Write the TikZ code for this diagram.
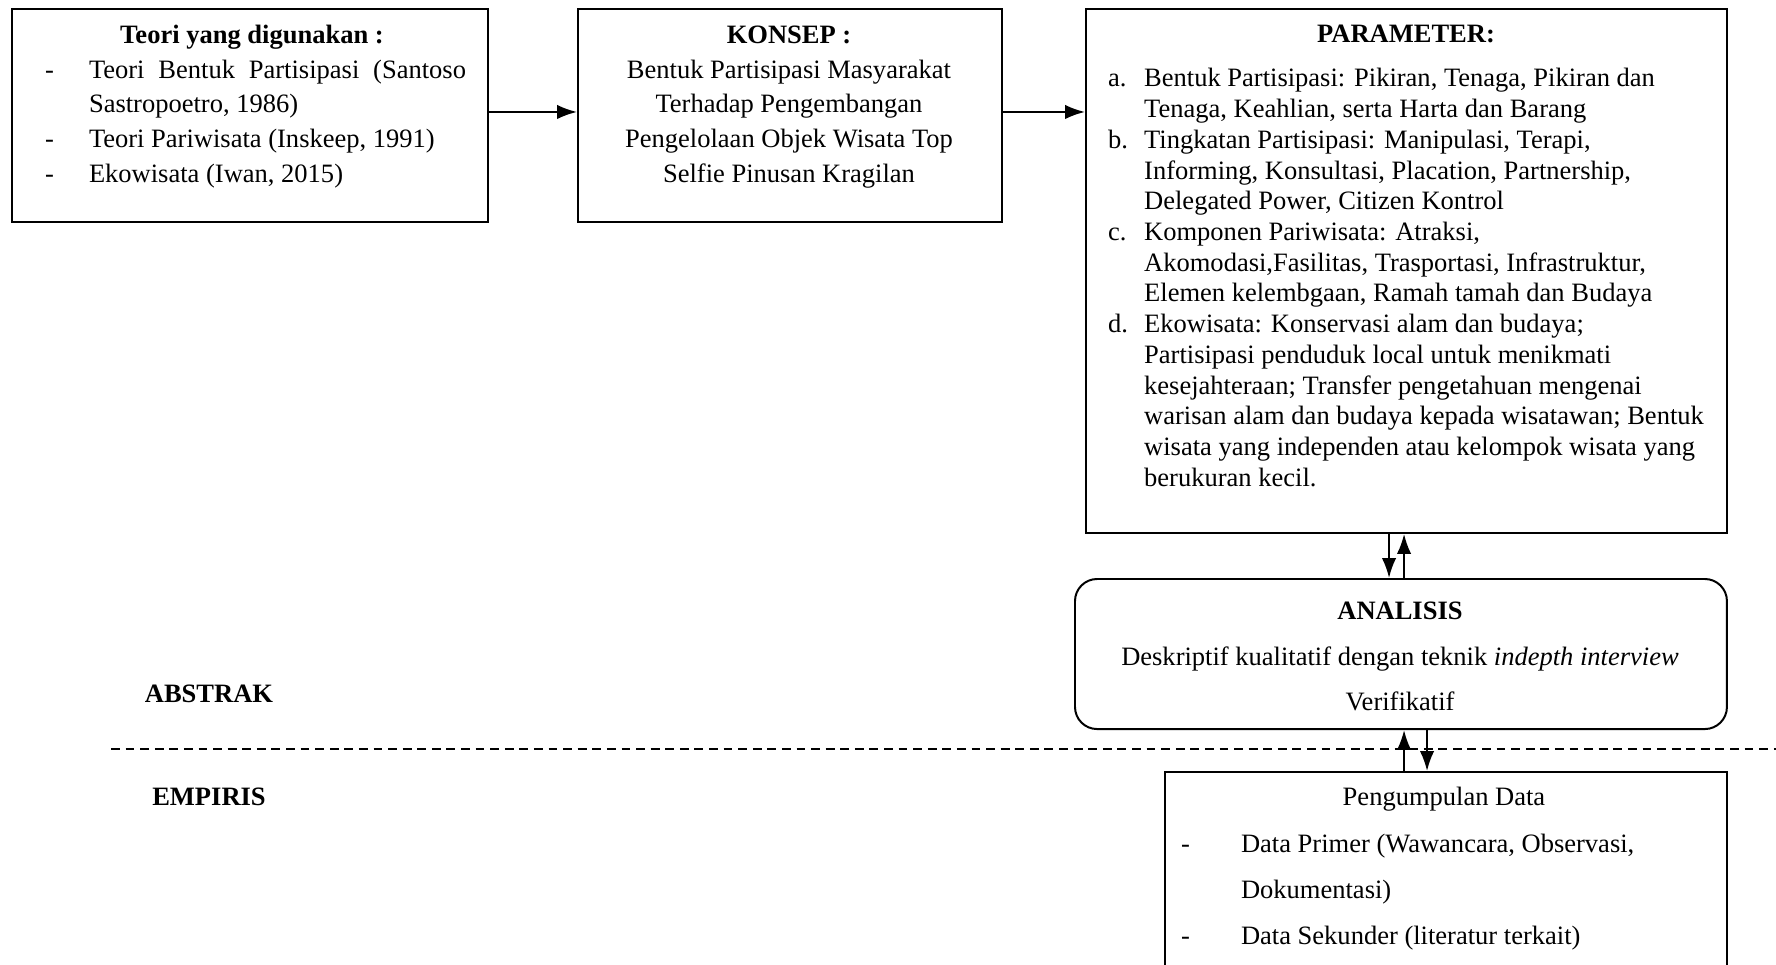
\documentclass[tikz,border=0pt]{standalone}
\usepackage{fontspec}
\setmainfont{Liberation Serif}
\usetikzlibrary{arrows.meta}

\def\U{0.4525pt}

\begin{document}
\begin{tikzpicture}[x=\U, y=-\U, >={Latex[length=9pt,width=6.5pt]},
  frame/.style={draw, line width=0.9pt, inner sep=0pt, anchor=north west},
  txt/.style={inner sep=0pt, font=\fontsize{12}{15.8}\selectfont},
  side/.style={inner sep=0pt, font=\bfseries\fontsize{12}{14}\selectfont},
  link/.style={->, line width=0.9pt}]

  \useasboundingbox (0,0) rectangle (1776,965);

  % draw frames
  \node [frame, minimum width=215.4pt, minimum height=96.4pt] (teori) at (11,8) {};
  \node [frame, minimum width=191.9pt, minimum height=96.4pt] (konsep) at (577,8) {};
  \node [frame, minimum width=290.1pt, minimum height=237.1pt] (param) at (1085,8) {};
  \node [frame, rounded corners=10pt, minimum width=295pt, minimum height=67.9pt] (analisis) at (1074,578) {};
  \node [frame, minimum width=254.3pt, minimum height=110pt] (data) at (1164,771) {};

  % draw texts
  \node [txt] (teori-txt) at (252,106) {%
    \begin{tabular}{@{}p{23.1pt}@{}p{170.6pt}@{}}
      \multicolumn{2}{@{}c@{}}{\textbf{Teori yang digunakan :}}\\
      \hspace*{3.2pt}- & \makebox[170.6pt][s]{Teori Bentuk Partisipasi (Santoso}\\
      & Sastropoetro, 1986)\\
      \hspace*{3.2pt}- & Teori Pariwisata (Inskeep, 1991)\\
      \hspace*{3.2pt}- & Ekowisata (Iwan, 2015)
    \end{tabular}};

  \node [txt] (konsep-txt) at (789,106) {%
    \begin{tabular}{@{}c@{}}
      \textbf{KONSEP :}\\
      Bentuk Partisipasi Masyarakat\\
      Terhadap Pengembangan\\
      Pengelolaan Objek Wisata Top\\
      Selfie Pinusan Kragilan
    \end{tabular}};

  \node [txt, font=\fontsize{12}{13.9}\selectfont] (param-txt) at (1406,258) {%
    \begin{tabular}{@{}p{16.3pt}@{}l@{}}
      \multicolumn{2}{@{}c@{}}{\textbf{PARAMETER:}}\\[6.4pt]
      a. & Bentuk Partisipasi: Pikiran, Tenaga, Pikiran dan\\
         & Tenaga, Keahlian, serta Harta dan Barang\\
      b. & Tingkatan Partisipasi: Manipulasi, Terapi,\\
         & Informing, Konsultasi, Placation, Partnership,\\
         & Delegated Power, Citizen Kontrol\\
      c. & Komponen Pariwisata: Atraksi,\\
         & Akomodasi,Fasilitas, Trasportasi, Infrastruktur,\\
         & Elemen kelembgaan, Ramah tamah dan Budaya\\
      d. & Ekowisata: Konservasi alam dan budaya;\\
         & Partisipasi penduduk local untuk menikmati\\
         & kesejahteraan; Transfer pengetahuan mengenai\\
         & warisan alam dan budaya kepada wisatawan; Bentuk\\
         & wisata yang independen atau kelompok wisata yang\\
         & berukuran kecil.
    \end{tabular}};

  \node [txt, font=\fontsize{12}{20.6}\selectfont] (analisis-txt) at (1400,656) {%
    \begin{tabular}{@{}c@{}}
      \textbf{ANALISIS}\\
      Deskriptif kualitatif dengan teknik \textit{indepth interview}\\
      Verifikatif
    \end{tabular}};

  \node [txt, font=\fontsize{12}{21}\selectfont] (data-txt) at (1444,866) {%
    \begin{tabular}{@{}p{29.4pt}@{}p{213.1pt}@{}}
      \multicolumn{2}{@{}c@{}}{Pengumpulan Data}\\
      \hspace*{2.3pt}- & Data Primer (Wawancara, Observasi,\\
      & Dokumentasi)\\
      \hspace*{2.3pt}- & Data Sekunder (literatur terkait)
    \end{tabular}};

  % draw side labels
  \node [side] (abstrak) at (209,694) {ABSTRAK};
  \node [side] (empiris) at (209,797) {EMPIRIS};

  % draw the border between abstrak and empiris
  \coordinate (border-l) at (111,749);
  \coordinate (border-r) at (1776,749);
  \draw [line width=0.9pt, dash pattern=on 4pt off 2.6pt] (border-l) -- (border-r);

  % draw connectors
  \draw [link] ([yshift=1.6pt]teori.east) -- ([yshift=1.6pt]konsep.west);
  \draw [link] ([yshift=1.6pt]konsep.east) -- ([yshift=1.6pt]konsep.east -| param.west);

  \draw [link] ([xshift=-5.4pt]analisis.north |- param.south) -- ([xshift=-5.4pt]analisis.north);
  \draw [link] ([xshift=1.4pt]analisis.north) -- ([xshift=1.4pt]analisis.north |- param.south);

  \draw [link] ([xshift=1.4pt]analisis.south |- data.north) -- ([xshift=1.4pt]analisis.south);
  \draw [link] ([xshift=11.8pt]analisis.south) -- ([xshift=11.8pt]analisis.south |- data.north);

\end{tikzpicture}
\end{document}
